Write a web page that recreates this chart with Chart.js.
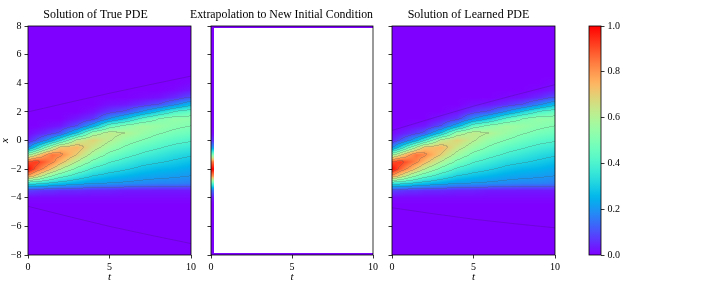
<!DOCTYPE html>
<html>
<head>
<meta charset="utf-8">
<script src="https://cdn.jsdelivr.net/npm/chart.js@4.4.1/dist/chart.umd.min.js"></script>
<style>
  body { margin: 0; background: #fff; }
  #wrap { position: relative; width: 706px; height: 283px; overflow: hidden; }
  canvas { position: absolute; top: 0; }
</style>
</head>
<body>
<div id="wrap">
  <canvas id="c1" width="219" height="283" style="left:0px"></canvas>
  <canvas id="c2" width="204" height="283" style="left:190px"></canvas>
  <canvas id="c3" width="183" height="283" style="left:382px"></canvas>
  <canvas id="cb" width="141" height="283" style="left:565px"></canvas>
</div>
<script>
// grid the solutions were read on
const tGrid = [0, 0.5, 1, 1.5, 2, 3, 4, 5, 6, 7, 8, 9, 10];
const xGrid = [-8, -7.5, -7, -6.5, -6, -5.5, -5, -4.5, -4, -3.5, -3, -2.5, -2, -1.5, -1, -0.5,
               0, 0.5, 1, 1.5, 2, 2.5, 3, 3.5, 4, 4.5, 5, 5.5, 6, 6.5, 7, 7.5, 8];

// u(t, x): one column per tGrid entry, values along xGrid (bottom to top)
const truePDE = [
  [0,0,0,0,0,0,0,0, 0.01,0.08,0.35,0.78,1.0,0.9,0.55,0.18,0.04,0.01, 0,0,0,0,0,0,0,0,0,0,0,0,0,0,0],
  [0,0,0,0,0,0,0,0, 0.01,0.07,0.34,0.68,0.88,0.93,0.66,0.32,0.1,0.03, 0,0,0,0,0,0,0,0,0,0,0,0,0,0,0],
  [0,0,0,0,0,0,0,0, 0.01,0.06,0.32,0.58,0.79,0.88,0.78,0.46,0.17,0.05,0.01, 0,0,0,0,0,0,0,0,0,0,0,0,0,0],
  [0,0,0,0,0,0,0,0, 0.01,0.06,0.29,0.5,0.7,0.82,0.85,0.6,0.26,0.08,0.02, 0,0,0,0,0,0,0,0,0,0,0,0,0,0],
  [0,0,0,0,0,0,0,0, 0.01,0.05,0.27,0.44,0.61,0.74,0.82,0.72,0.38,0.12,0.03, 0,0,0,0,0,0,0,0,0,0,0,0,0,0],
  [0,0,0,0,0,0,0,0, 0.01,0.05,0.24,0.36,0.48,0.6,0.7,0.75,0.62,0.3,0.1,0.03, 0,0,0,0,0,0,0,0,0,0,0,0,0],
  [0,0,0,0,0,0,0,0, 0.01,0.04,0.21,0.3,0.39,0.48,0.57,0.64,0.69,0.55,0.25,0.07,0.02, 0,0,0,0,0,0,0,0,0,0,0,0],
  [0,0,0,0,0,0,0,0, 0.01,0.04,0.2,0.27,0.34,0.41,0.48,0.55,0.61,0.63,0.45,0.2,0.07,0.02, 0,0,0,0,0,0,0,0,0,0,0],
  [0,0,0,0,0,0,0,0, 0.01,0.03,0.19,0.25,0.31,0.37,0.43,0.49,0.54,0.6,0.52,0.3,0.11,0.03, 0,0,0,0,0,0,0,0,0,0,0],
  [0,0,0,0,0,0,0,0, 0.01,0.03,0.18,0.23,0.28,0.33,0.39,0.44,0.5,0.55,0.57,0.42,0.2,0.06,0.01, 0,0,0,0,0,0,0,0,0,0],
  [0,0,0,0,0,0,0,0, 0.01,0.03,0.17,0.22,0.26,0.31,0.36,0.41,0.46,0.51,0.55,0.5,0.3,0.1,0.02, 0,0,0,0,0,0,0,0,0,0],
  [0,0,0,0,0,0,0,0, 0.01,0.03,0.17,0.21,0.25,0.29,0.33,0.38,0.43,0.48,0.52,0.54,0.4,0.18,0.05,0.01, 0,0,0,0,0,0,0,0,0],
  [0,0,0,0,0,0,0,0, 0.01,0.03,0.16,0.2,0.23,0.27,0.31,0.36,0.41,0.46,0.5,0.53,0.45,0.27,0.1,0.03,0.01, 0,0,0,0,0,0,0,0]
];
// the learned solution is indistinguishable from the true one at this size
const learnedPDE = truePDE;

// faint zero-level contours far from the pulse
const zeroTimes = [0, 5, 10];
const trueZeroUpper = [2.0, 3.3, 4.5];
const trueZeroLower = [-4.6, -6.0, -7.2];
const learnedZeroUpper = [0.7, 2.4, 3.9];
const learnedZeroLower = [-4.7, -5.5, -6.1];

// middle panel: only the new initial condition and the boundary rows are known
const newInitial = [0,0,0,0,0,0,0,0, 0.03,0.14,0.42,0.8,1.0,0.85,0.5,0.2,0.06,0.01, 0,0,0,0,0,0,0,0,0,0,0,0,0,0,0];
const boundaryTimes = [0, 10];
const boundaryValues = [0, 0];

const tTicks = [0, 5, 10];
const xTicks = [-8, -6, -4, -2, 0, 2, 4, 6, 8];
const cbTicks = [0, 0.2, 0.4, 0.6, 0.8, 1.0];
const contourLevels = [0.1, 0.2, 0.3, 0.4, 0.5, 0.6, 0.7, 0.8, 0.9];

Chart.defaults.font.family = "'Liberation Serif', 'Times New Roman', serif";
Chart.defaults.color = '#000';

// matplotlib "rainbow"
function rainbow(v) {
  v = Math.min(1, Math.max(0, v));
  const r = Math.min(1, Math.abs(2 * v - 0.5));
  const g = Math.sin(Math.PI * v);
  const b = Math.cos(Math.PI * v / 2);
  return [Math.round(r * 255), Math.round(g * 255), Math.round(b * 255)];
}

function findCell(grid, v) {
  let i = 0;
  while (i < grid.length - 2 && v > grid[i + 1]) i++;
  const f = (v - grid[i]) / (grid[i + 1] - grid[i]);
  return [i, Math.min(1, Math.max(0, f))];
}

function sampleField(cols, t, x) {
  const [i, ft] = findCell(tGrid, t);
  const [j, fx] = findCell(xGrid, x);
  const a = cols[i][j] * (1 - fx) + cols[i][j + 1] * fx;
  const b = cols[i + 1][j] * (1 - fx) + cols[i + 1][j + 1] * fx;
  return a * (1 - ft) + b * ft;
}

function sampleLine(grid, vals, v) {
  const [i, f] = findCell(grid, v);
  return vals[i] * (1 - f) + vals[i + 1] * f;
}

function levelIndex(v) {
  let k = 0;
  while (k < contourLevels.length && v >= contourLevels[k]) k++;
  return k;
}

// paints the field pixel by pixel through the chart's scales
function heatLayer(sample, contours) {
  return {
    id: 'heat',
    beforeDatasetsDraw(chart) {
      const { ctx, chartArea: a, scales } = chart;
      const w = Math.round(a.right - a.left), h = Math.round(a.bottom - a.top);
      const vals = new Float32Array(w * h);
      for (let j = 0; j < h; j++) {
        const xv = scales.y.getValueForPixel(a.top + j + 0.5);
        for (let i = 0; i < w; i++) {
          vals[j * w + i] = sample(scales.x.getValueForPixel(a.left + i + 0.5), xv);
        }
      }
      const off = document.createElement('canvas');
      off.width = w;
      off.height = h;
      const octx = off.getContext('2d');
      const img = octx.createImageData(w, h);
      for (let k = 0; k < w * h; k++) {
        const v = vals[k];
        if (isNaN(v)) continue;
        let [r, g, b] = rainbow(v);
        if (contours) {
          const i = k % w, j = (k - i) / w;
          const lv = levelIndex(v);
          if ((i + 1 < w && levelIndex(vals[k + 1]) !== lv) || (j + 1 < h && levelIndex(vals[k + w]) !== lv)) {
            // thin grey contour line
            r = r * 0.75 + 80 * 0.25;
            g = g * 0.75 + 80 * 0.25;
            b = b * 0.75 + 80 * 0.25;
          }
        }
        img.data[k * 4] = r;
        img.data[k * 4 + 1] = g;
        img.data[k * 4 + 2] = b;
        img.data[k * 4 + 3] = 255;
      }
      octx.putImageData(img, 0, 0);
      ctx.drawImage(off, a.left, a.top);
    }
  };
}

const frameLayer = {
  id: 'frame',
  afterDatasetsDraw(chart) {
    const { ctx, chartArea: a } = chart;
    ctx.save();
    ctx.strokeStyle = '#000';
    ctx.lineWidth = 0.8;
    ctx.strokeRect(a.left, a.top, a.right - a.left, a.bottom - a.top);
    ctx.restore();
  }
};

function minus(v) {
  return v < 0 ? '\u2212' + Math.abs(v) : String(v);
}

function zeroLine(upperOrLower) {
  return {
    data: zeroTimes.map((t, k) => ({ x: t, y: upperOrLower[k] })),
    showLine: true,
    pointRadius: 0,
    borderColor: 'rgba(50,20,90,0.3)',
    borderWidth: 0.8,
    cubicInterpolationMode: 'monotone'
  };
}

function makePanel(id, opts) {
  return new Chart(document.getElementById(id), {
    type: 'scatter',
    data: { datasets: opts.datasets || [] },
    options: {
      responsive: false,
      animation: false,
      events: [],
      layout: { padding: { right: opts.padRight } },
      plugins: {
        legend: { display: false },
        tooltip: { enabled: false },
        title: {
          display: true,
          text: opts.title,
          font: { size: 12, weight: 'normal', lineHeight: '14px' },
          padding: { top: 8, bottom: 4 }
        }
      },
      scales: {
        x: {
          type: 'linear', min: 0, max: 10,
          afterBuildTicks: s => { s.ticks = tTicks.map(v => ({ value: v })); },
          ticks: { font: { size: 10 }, padding: 3, maxRotation: 0, callback: v => minus(v) },
          grid: { drawOnChartArea: false, tickLength: 3.5, color: '#000', lineWidth: 0.8 },
          border: { display: false },
          title: { display: true, text: 't', font: { size: 11, style: 'italic', lineHeight: 1 }, padding: 0 },
          afterFit: s => { s.height = 28; s.paddingLeft = 0; s.paddingRight = 0; }
        },
        y: {
          type: 'linear', min: -8, max: 8,
          afterBuildTicks: s => { s.ticks = xTicks.map(v => ({ value: v })); },
          ticks: { font: { size: 10 }, padding: 3, callback: v => opts.yLabels ? minus(v) : '' },
          grid: { drawOnChartArea: false, tickLength: 3.5, color: '#000', lineWidth: 0.8 },
          border: { display: false },
          title: { display: !!opts.yLabels, text: 'x', font: { size: 11, style: 'italic', lineHeight: 1 }, padding: 0 },
          afterFit: s => { s.width = opts.axisWidth; s.paddingTop = 0; s.paddingBottom = 0; }
        }
      }
    },
    plugins: [heatLayer(opts.sample, opts.contours), frameLayer]
  });
}

makePanel('c1', {
  title: 'Solution of True PDE',
  axisWidth: 28, padRight: 28, yLabels: true, contours: true,
  sample: (t, x) => sampleField(truePDE, t, x),
  datasets: [zeroLine(trueZeroUpper), zeroLine(trueZeroLower)]
});

makePanel('c2', {
  title: 'Extrapolation to New Initial Condition',
  axisWidth: 21, padRight: 21, yLabels: false, contours: false,
  sample: (t, x) => {
    if (x >= 7.86 || x <= -7.86) return sampleLine(boundaryTimes, boundaryValues, t);
    if (t <= 0.18) return sampleLine(xGrid, newInitial, x);
    return NaN;
  }
});

makePanel('c3', {
  title: 'Solution of Learned PDE',
  axisWidth: 10, padRight: 10, yLabels: false, contours: true,
  sample: (t, x) => sampleField(learnedPDE, t, x),
  datasets: [zeroLine(learnedZeroUpper), zeroLine(learnedZeroLower)]
});

const colorbarLayer = {
  id: 'colorbar',
  beforeDatasetsDraw(chart) {
    const { ctx, chartArea: a, scales: { y } } = chart;
    const y0 = y.getPixelForValue(0), y1 = y.getPixelForValue(1);
    const grad = ctx.createLinearGradient(0, y0, 0, y1);
    for (let k = 0; k <= 50; k++) {
      const [r, g, b] = rainbow(k / 50);
      grad.addColorStop(k / 50, `rgb(${r},${g},${b})`);
    }
    ctx.save();
    ctx.fillStyle = grad;
    ctx.fillRect(a.left, y1, a.right - a.left, y0 - y1);
    ctx.strokeStyle = '#000';
    ctx.lineWidth = 0.8;
    ctx.strokeRect(a.left, y1, a.right - a.left, y0 - y1);
    ctx.restore();
  }
};

new Chart(document.getElementById('cb'), {
  type: 'scatter',
  data: { datasets: [] },
  options: {
    responsive: false,
    animation: false,
    events: [],
    layout: { padding: { left: 24, top: 26, bottom: 28 } },
    plugins: { legend: { display: false }, tooltip: { enabled: false } },
    scales: {
      x: { display: false, min: 0, max: 1 },
      y: {
        position: 'right', min: 0, max: 1,
        afterBuildTicks: s => { s.ticks = cbTicks.map(v => ({ value: v })); },
        ticks: { font: { size: 10 }, padding: 3, callback: v => v.toFixed(1) },
        grid: { drawOnChartArea: false, tickLength: 3.5, color: '#000', lineWidth: 0.8 },
        border: { display: false },
        afterFit: s => { s.width = 105; s.paddingTop = 0; s.paddingBottom = 0; }
      }
    }
  },
  plugins: [colorbarLayer]
});
</script>
</body>
</html>
